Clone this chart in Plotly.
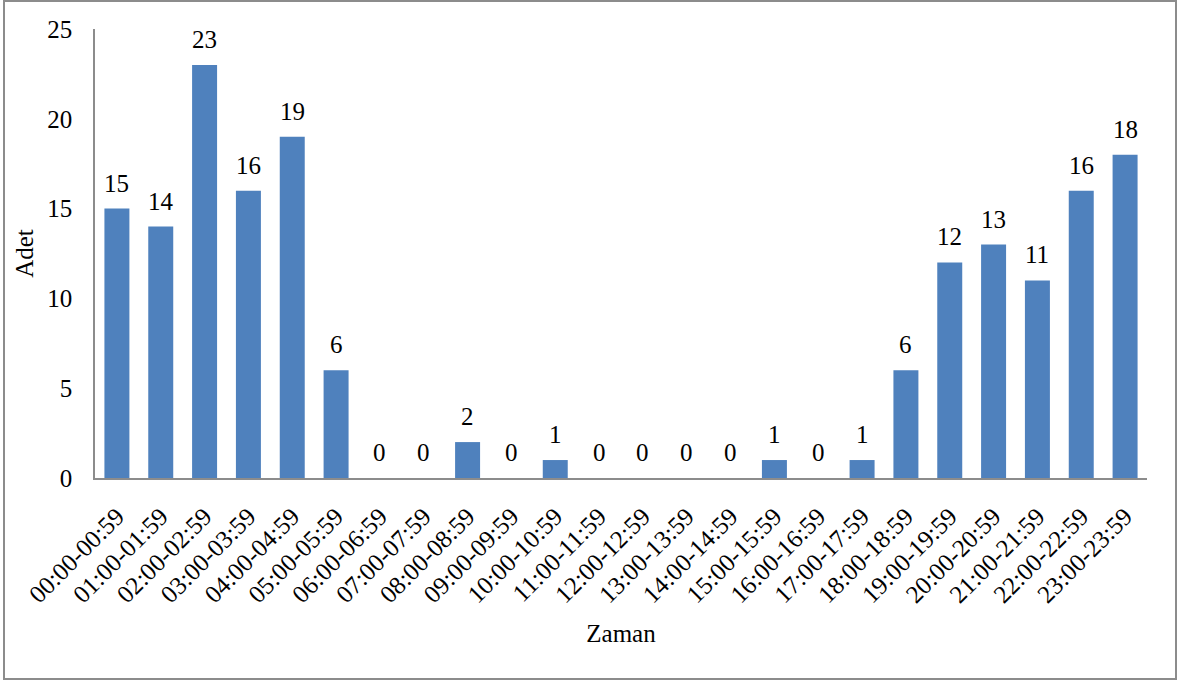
import plotly.graph_objects as go

categories = ["00:00-00:59", "01:00-01:59", "02:00-02:59", "03:00-03:59", "04:00-04:59",
              "05:00-05:59", "06:00-06:59", "07:00-07:59", "08:00-08:59", "09:00-09:59",
              "10:00-10:59", "11:00-11:59", "12:00-12:59", "13:00-13:59", "14:00-14:59",
              "15:00-15:59", "16:00-16:59", "17:00-17:59", "18:00-18:59", "19:00-19:59",
              "20:00-20:59", "21:00-21:59", "22:00-22:59", "23:00-23:59"]
values = [15, 14, 23, 16, 19, 6, 0, 0, 2, 0, 1, 0, 0, 0, 0, 1, 0, 1, 6, 12, 13, 11, 16, 18]
y_ticks = [0, 5, 10, 15, 20, 25]

FONT = "Liberation Serif, Times New Roman, serif"
FS = 25

fig = go.Figure(go.Bar(
    x=categories, y=values,
    marker=dict(color="#4F81BD", line=dict(width=0)),
    cliponaxis=False, hoverinfo="skip",
))

for c, v in zip(categories, values):
    fig.add_annotation(x=c, y=v, text=str(v), showarrow=False, yanchor="bottom",
                       yshift=10, font=dict(family=FONT, size=FS, color="black"))

W, H = 1180, 684
L, R, T, B = 95, 33, 29, 206
pw, ph = W - L - R, H - T - B

fig.update_layout(
    width=W, height=H,
    margin=dict(l=L, r=R, t=T, b=B, autoexpand=False),
    paper_bgcolor="white", plot_bgcolor="white",
    bargap=0.43,
    showlegend=False,
    font=dict(family=FONT, size=FS, color="black"),
    xaxis=dict(
        tickangle=-45, showgrid=False, showline=True, linecolor="#8c8c8c", linewidth=1.5,
        ticks="", tickfont=dict(family=FONT, size=FS), ticklabelstandoff=12,
        title=dict(text="Zaman", font=dict(family=FONT, size=FS), standoff=17),
    ),
    yaxis=dict(
        range=[0, 25], tickvals=y_ticks, showgrid=False, zeroline=False,
        showline=True, linecolor="#8c8c8c", linewidth=1.5, ticks="",
        tickfont=dict(family=FONT, size=FS), ticklabelstandoff=16,
        title=dict(text="Adet", font=dict(family=FONT, size=FS), standoff=7),
    ),
    shapes=[dict(
        type="rect", xref="paper", yref="paper",
        x0=(4 - L) / pw, x1=(1176 - L) / pw,
        y0=(T + ph - 679) / ph, y1=(T + ph - 1) / ph,
        line=dict(color="#8c8c8c", width=2), fillcolor="rgba(0,0,0,0)", layer="below",
    )],
)

fig.write_html("out.html", config={"displayModeBar": False},
               post_script="document.body.style.margin='0';")
